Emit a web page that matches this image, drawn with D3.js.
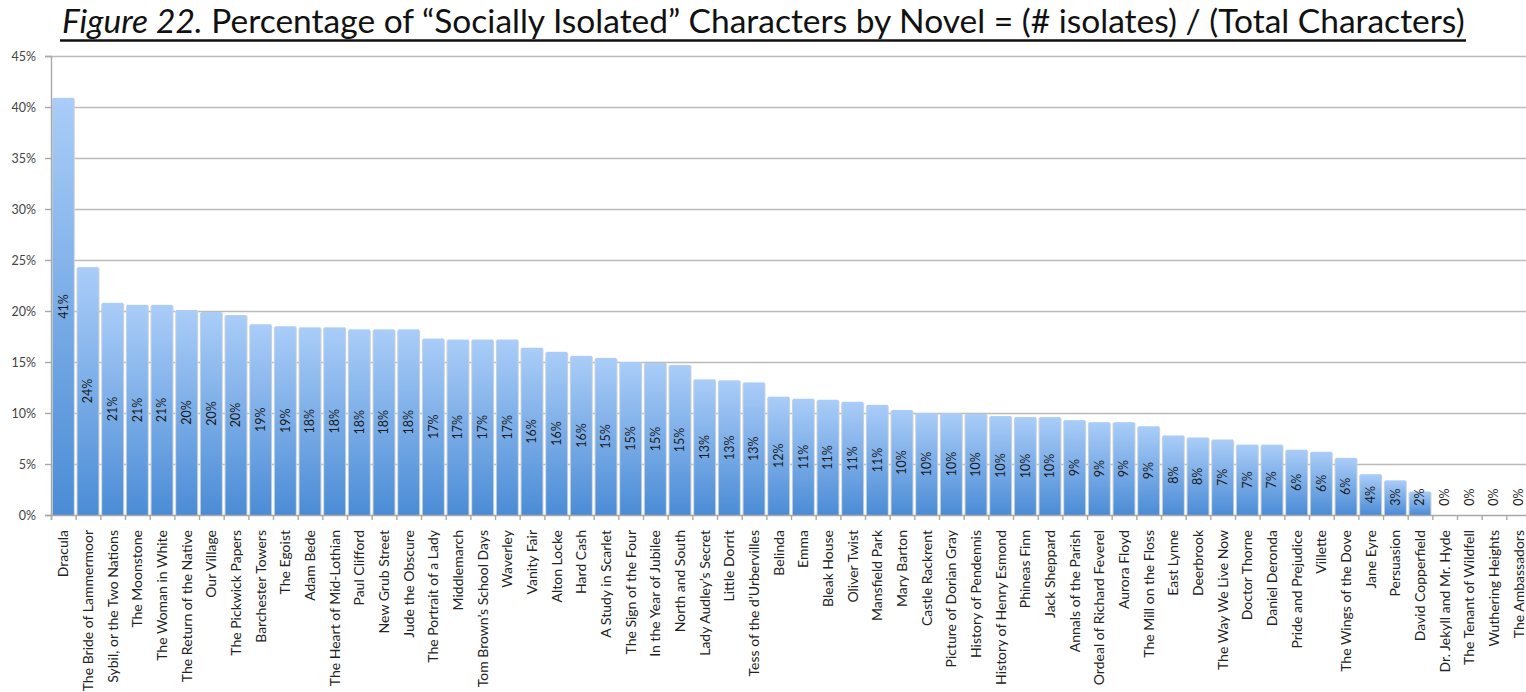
<!DOCTYPE html>
<html>
<head>
<meta charset="utf-8">
<script src="https://cdn.jsdelivr.net/npm/d3@7"></script>
<style>
  body { margin: 0; background: #ffffff; }
  svg { display: block; }
</style>
</head>
<body>
<svg id="chart" width="1526" height="692"></svg>
<script>
// Novels, ordered by share of socially isolated characters
const novels = [
  "Dracula", "The Bride of Lammermoor", "Sybil, or the Two Nations", "The Moonstone",
  "The Woman in White", "The Return of the Native", "Our Village", "The Pickwick Papers",
  "Barchester Towers", "The Egoist", "Adam Bede", "The Heart of Mid-Lothian",
  "Paul Clifford", "New Grub Street", "Jude the Obscure", "The Portrait of a Lady",
  "Middlemarch", "Tom Brown\u2019s School Days", "Waverley", "Vanity Fair",
  "Alton Locke", "Hard Cash", "A Study in Scarlet", "The Sign of the Four",
  "In the Year of Jubilee", "North and South", "Lady Audley\u2019s Secret", "Little Dorrit",
  "Tess of the d\u2019Urbervilles", "Belinda", "Emma", "Bleak House",
  "Oliver Twist", "Mansfield Park", "Mary Barton", "Castle Rackrent",
  "Picture of Dorian Gray", "History of Pendennis", "History of Henry Esmond", "Phineas Finn",
  "Jack Sheppard", "Annals of the Parish", "Ordeal of Richard Feverel", "Aurora Floyd",
  "The Mill on the Floss", "East Lynne", "Deerbrook", "The Way We Live Now",
  "Doctor Thorne", "Daniel Deronda", "Pride and Prejudice", "Villette",
  "The Wings of the Dove", "Jane Eyre", "Persuasion", "David Copperfield",
  "Dr. Jekyll and Mr. Hyde", "The Tenant of Wildfell", "Wuthering Heights", "The Ambassadors"
];

// Share of characters that are isolates (# isolates / total characters)
const isolatedShare = [
  0.409, 0.243, 0.208, 0.206,
  0.206, 0.201, 0.199, 0.196,
  0.187, 0.185, 0.184, 0.184,
  0.182, 0.182, 0.182, 0.173,
  0.172, 0.172, 0.172, 0.164,
  0.160, 0.156, 0.154, 0.150,
  0.149, 0.147, 0.133, 0.132,
  0.130, 0.116, 0.114, 0.113,
  0.111, 0.108, 0.103, 0.100,
  0.100, 0.099, 0.097, 0.096,
  0.096, 0.093, 0.091, 0.091,
  0.087, 0.078, 0.076, 0.074,
  0.069, 0.069, 0.064, 0.062,
  0.056, 0.040, 0.034, 0.023,
  0, 0, 0, 0
];

const yTicks = [0, 0.05, 0.10, 0.15, 0.20, 0.25, 0.30, 0.35, 0.40, 0.45];

const titleLead = "Figure 22.";
const titleText = " Percentage of \u201CSocially Isolated\u201D Characters by Novel = (# isolates) / (Total Characters)";

const FONT = "Lato, 'Open Sans', 'DejaVu Sans', sans-serif";
const plotLeft = 51, plotRight = 1531, plotTop = 56, plotBottom = 515;

const svg = d3.select("#chart");

const data = novels.map((n, i) => ({ name: n, value: isolatedShare[i] }));

const x = d3.scaleBand()
  .domain(novels)
  .range([plotLeft, plotRight])
  .paddingInner(0.15)
  .paddingOuter(0.075);

const slot = d3.scaleLinear().domain([0, novels.length]).range([plotLeft, plotRight]);

const y = d3.scaleLinear().domain([0, 0.45]).range([plotBottom, plotTop]);

// each bar fades from a pale top to a deeper blue base
const defs = svg.append("defs");
const grad = defs.append("linearGradient")
  .attr("id", "barFill")
  .attr("x1", 0).attr("y1", 0)
  .attr("x2", 0).attr("y2", 1);
grad.append("stop").attr("offset", "0%").attr("stop-color", "#aacdf8");
grad.append("stop").attr("offset", "100%").attr("stop-color", "#4b8cd6");

// horizontal gridlines
const grid = svg.append("g")
  .attr("transform", `translate(${plotLeft},0)`)
  .call(d3.axisLeft(y).tickValues(yTicks.slice(1)).tickSize(-(plotRight - plotLeft)).tickFormat(""));
grid.select(".domain").remove();
grid.selectAll("line").attr("stroke", "#bababa").attr("stroke-width", 1.7);

// soft grey edge behind each bar
svg.append("g").selectAll("rect")
  .data(data.filter(d => d.value > 0))
  .join("rect")
  .attr("x", d => x(d.name) - 1)
  .attr("y", d => y(d.value) + 1)
  .attr("width", x.bandwidth() + 2)
  .attr("height", d => plotBottom - y(d.value) - 1)
  .attr("fill", "#cdd3da");

// bars
svg.append("g").selectAll("rect")
  .data(data)
  .join("rect")
  .attr("x", d => x(d.name))
  .attr("y", d => y(d.value))
  .attr("width", x.bandwidth())
  .attr("height", d => plotBottom - y(d.value))
  .attr("fill", "url(#barFill)");

// y axis
const yAxis = svg.append("g")
  .attr("transform", `translate(${plotLeft},0)`)
  .call(d3.axisLeft(y).tickValues(yTicks).tickFormat(d3.format(".0%")).tickSize(6).tickPadding(9));
yAxis.select(".domain").attr("stroke", "#a8a8a8").attr("stroke-width", 1.4);
yAxis.selectAll("line").attr("stroke", "#a8a8a8").attr("stroke-width", 1.4);
yAxis.selectAll("text")
  .attr("font-family", FONT).attr("font-size", 12.5).attr("fill", "#444");

// x axis: tick marks between categories
const xTicks = svg.append("g")
  .attr("transform", `translate(0,${plotBottom})`)
  .call(d3.axisBottom(slot).tickValues(d3.range(novels.length + 1)).tickSize(5).tickFormat(""));
xTicks.select(".domain").attr("stroke", "#a8a8a8").attr("stroke-width", 1.4);
xTicks.selectAll("line").attr("stroke", "#a8a8a8").attr("stroke-width", 1.4);

// x axis: rotated novel titles
const xLabels = svg.append("g")
  .attr("transform", `translate(0,${plotBottom})`)
  .call(d3.axisBottom(x).tickSize(0));
xLabels.select(".domain").remove();
xLabels.selectAll("text")
  .attr("font-family", FONT).attr("font-size", 14).attr("fill", "#222")
  .attr("text-anchor", "end")
  .attr("transform", "rotate(-90)")
  .attr("x", -15).attr("y", 0).attr("dy", "0.35em");

// value labels, centred in each bar
const pct = d3.format(".0%");
svg.append("g").selectAll("text")
  .data(data)
  .join("text")
  .attr("transform", d => {
    const cx = x(d.name) + x.bandwidth() / 2;
    const cy = Math.min((y(d.value) + plotBottom) / 2, plotBottom - 18);
    return `translate(${cx},${cy}) rotate(-90)`;
  })
  .attr("text-anchor", "middle")
  .attr("dy", "0.35em")
  .attr("font-family", FONT).attr("font-size", 12.5).attr("fill", "#1a1a1a")
  .text(d => pct(d.value));

// title, underlined across its full width
const title = svg.append("text")
  .attr("x", 62).attr("y", 33)
  .attr("font-family", FONT).attr("font-size", 30).attr("fill", "#111");
title.append("tspan").attr("font-style", "italic").text(titleLead);
title.append("tspan").text(titleText);
const wanted = 1403;
const measured = title.node().getComputedTextLength();
title.attr("font-size", 30 * wanted / measured);
svg.append("line")
  .attr("x1", 60).attr("x2", 1466)
  .attr("y1", 40.5).attr("y2", 40.5)
  .attr("stroke", "#111").attr("stroke-width", 2.6);
</script>
</body>
</html>
